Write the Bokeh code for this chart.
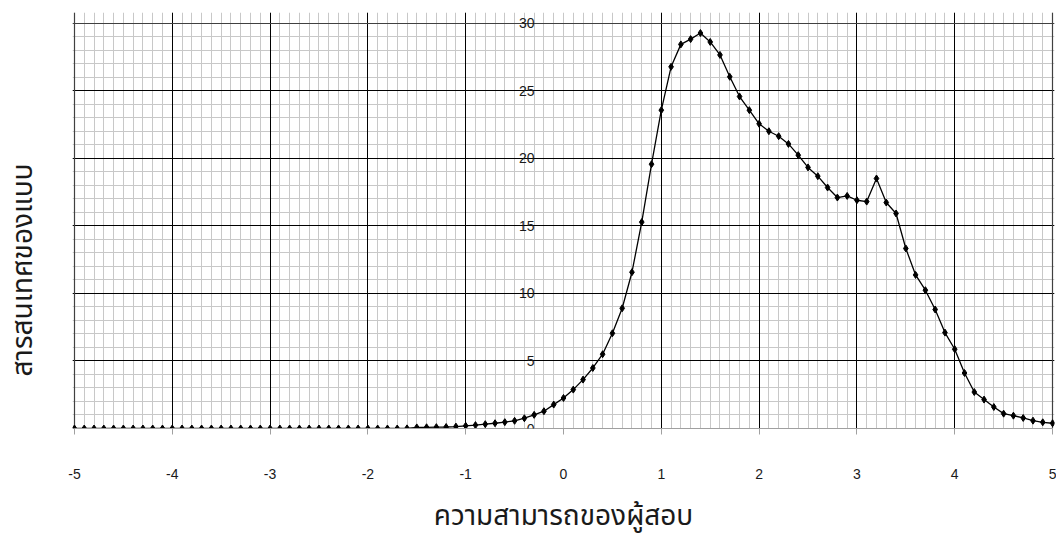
from bokeh.plotting import figure
from bokeh.models import Range1d, LinearAxis, FixedTicker, Grid, Title
from bokeh.embed import file_html
from bokeh.resources import INLINE

# ---- data -------------------------------------------------------------
ability = [-5.0, -4.9, -4.8, -4.7, -4.6, -4.5, -4.4, -4.3, -4.2, -4.1,
           -4.0, -3.9, -3.8, -3.7, -3.6, -3.5, -3.4, -3.3, -3.2, -3.1,
           -3.0, -2.9, -2.8, -2.7, -2.6, -2.5, -2.4, -2.3, -2.2, -2.1,
           -2.0, -1.9, -1.8, -1.7, -1.6, -1.5, -1.4, -1.3, -1.2, -1.1,
           -1.0, -0.9, -0.8, -0.7, -0.6, -0.5, -0.4, -0.3, -0.2, -0.1,
           0.0, 0.1, 0.2, 0.3, 0.4, 0.5, 0.6, 0.7, 0.8, 0.9,
           1.0, 1.1, 1.2, 1.3, 1.4, 1.5, 1.6, 1.7, 1.8, 1.9,
           2.0, 2.1, 2.2, 2.3, 2.4, 2.5, 2.6, 2.7, 2.8, 2.9,
           3.0, 3.1, 3.2, 3.3, 3.4, 3.5, 3.6, 3.7, 3.8, 3.9,
           4.0, 4.1, 4.2, 4.3, 4.4, 4.5, 4.6, 4.7, 4.8, 4.9, 5.0]

information = [0.0, 0.0, 0.0, 0.0, 0.0, 0.0, 0.0, 0.0, 0.0, 0.0,
               0.0, 0.0, 0.0, 0.0, 0.0, 0.0, 0.0, 0.0, 0.0, 0.0,
               0.0, 0.0, 0.0, 0.0, 0.0, 0.0, 0.0, 0.0, 0.0, 0.0,
               0.0, 0.0, 0.0, 0.0, 0.01, 0.08, 0.09, 0.10, 0.11, 0.14,
               0.20, 0.25, 0.32, 0.39, 0.47, 0.57, 0.76, 1.01, 1.28, 1.77,
               2.26, 2.88, 3.62, 4.48, 5.50, 7.05, 8.90, 11.57, 15.28, 19.57,
               23.57, 26.78, 28.44, 28.83, 29.28, 28.62, 27.66, 26.04, 24.58, 23.57,
               22.56, 22.01, 21.64, 21.07, 20.24, 19.33, 18.68, 17.84, 17.10, 17.22,
               16.90, 16.80, 18.51, 16.73, 15.92, 13.33, 11.37, 10.24, 8.81, 7.10,
               5.87, 4.11, 2.70, 2.14, 1.59, 1.10, 0.95, 0.78, 0.58, 0.46, 0.39]

x_ticks = [-5, -4, -3, -2, -1, 0, 1, 2, 3, 4, 5]
x_tick_labels = ["-5", "-4", "-3", "-2", "-1", "0", "1", "2", "3", "4", "5"]
y_ticks = [0, 5, 10, 15, 20, 25, 30]
y_tick_labels = ["0", "5", "10", "15", "20", "25", "30"]

x_title = "ความสามารถของผู้สอบ"
y_title = "สารสนเทศของแบบ"

# ---- grid positions ---------------------------------------------------
x_minor = [round(-5 + 0.1 * i, 1) for i in range(101)]
x_major = [-4, -3, -2, -1, 1, 2, 3, 4]
x_border = [-5, 5]
y_minor = list(range(0, 31))
y_major = [5, 10, 15, 20, 25]
y_border = [30]

THAI_FONT = "Noto Sans Thai, Tahoma, Noto Sans, sans-serif"
TICK_FONT = "Liberation Sans"
MINOR = "#c8c8c8"
MAJOR = "#000000"
BORDER = "#404040"
TEXT = "#1a1a1a"

p = figure(width=1056, height=540,
           x_range=Range1d(-5.02, 5.02), y_range=Range1d(0, 30.8),
           x_axis_type=None, y_axis_type=None,
           output_backend="svg", toolbar_location=None,
           min_border_left=72, min_border_right=2,
           min_border_top=12, min_border_bottom=111)
p.background_fill_color = "white"
p.border_fill_color = "white"
p.outline_line_color = None

XB = (0, 30)
YB = (-5, 5)
# grids: minor first, then major, then borders
p.add_layout(Grid(dimension=0, ticker=FixedTicker(ticks=x_minor), bounds=XB,
                  grid_line_color=MINOR, grid_line_width=1))
p.add_layout(Grid(dimension=1, ticker=FixedTicker(ticks=y_minor), bounds=YB,
                  grid_line_color=MINOR, grid_line_width=1))
p.add_layout(Grid(dimension=0, ticker=FixedTicker(ticks=x_major), bounds=XB,
                  grid_line_color=MAJOR, grid_line_width=1))
p.add_layout(Grid(dimension=1, ticker=FixedTicker(ticks=y_major), bounds=YB,
                  grid_line_color=MAJOR, grid_line_width=1))
p.add_layout(Grid(dimension=0, ticker=FixedTicker(ticks=x_border), bounds=XB,
                  grid_line_color=BORDER, grid_line_width=1.2))
p.add_layout(Grid(dimension=1, ticker=FixedTicker(ticks=y_border), bounds=YB,
                  grid_line_color=BORDER, grid_line_width=1.2))

# x axis
xaxis = LinearAxis(ticker=FixedTicker(ticks=x_ticks),
                   major_label_overrides={t: s for t, s in zip(x_ticks, x_tick_labels)},
                   bounds=(-5, 5),
                   major_tick_in=0, major_tick_out=6,
                   minor_tick_in=0, minor_tick_out=0,
                   axis_line_color="#a0a0a0", major_tick_line_color="#a0a0a0",
                   major_label_standoff=34,
                   major_label_text_font=TICK_FONT,
                   major_label_text_font_size="14px",
                   major_label_text_color=TEXT,
                   axis_label=x_title,
                   axis_label_standoff=13,
                   axis_label_text_font=THAI_FONT,
                   axis_label_text_font_size="28px",
                   axis_label_text_font_style="normal",
                   axis_label_text_color=TEXT)
p.add_layout(xaxis, "below")

# y axis crossing at x = 0
yaxis = LinearAxis(ticker=FixedTicker(ticks=y_ticks),
                   major_label_overrides={t: s for t, s in zip(y_ticks, y_tick_labels)},
                   fixed_location=0,
                   major_tick_in=0, major_tick_out=0,
                   minor_tick_in=0, minor_tick_out=0,
                   axis_line_color=None,
                   major_label_standoff=29,
                   major_label_text_font=TICK_FONT,
                   major_label_text_font_size="14px",
                   major_label_text_color=TEXT)
p.add_layout(yaxis, "left")

# invisible spacer axis between the frame and the y title
spacer = LinearAxis(ticker=FixedTicker(ticks=[0]),
                    major_label_overrides={0: ""},
                    major_label_standoff=0,
                    major_label_text_font_size="1px",
                    major_tick_in=0, major_tick_out=43,
                    minor_tick_in=0, minor_tick_out=0,
                    axis_line_color=None,
                    major_tick_line_color="white",
                    minor_tick_line_color=None)
p.add_layout(spacer, "left")

# y title on the left side
p.add_layout(Title(text=y_title, align="left", offset=52, standoff=-30,
                   text_font=THAI_FONT, text_font_size="28px",
                   text_font_style="normal", text_color=TEXT), "left")

# data
p.line(ability, information, line_color="black", line_width=1.3)
p.scatter(ability, information, marker="diamond", size=7,
          fill_color="black", line_color="black")

with open("out.html", "w", encoding="utf-8") as f:
    f.write(file_html(p, INLINE))
